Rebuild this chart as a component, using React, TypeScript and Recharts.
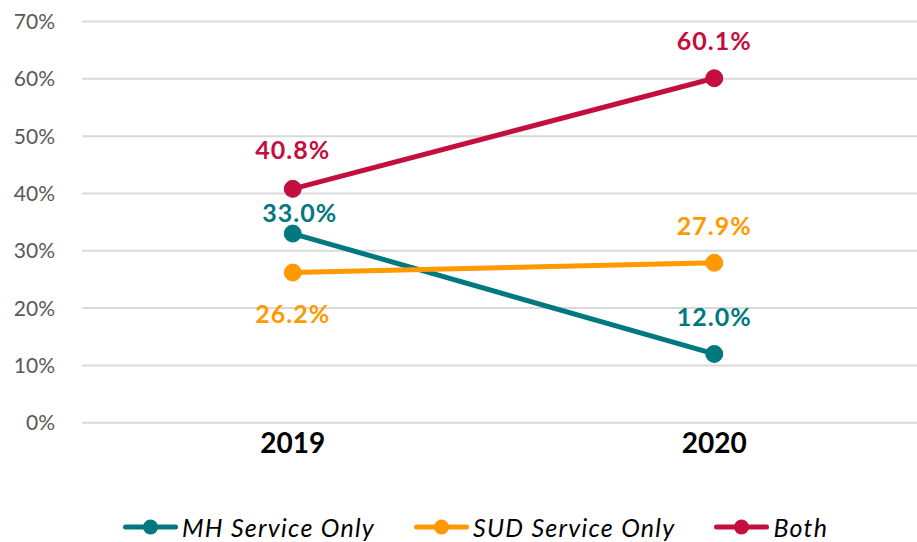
import React from 'react';
import { LineChart, Line, XAxis, YAxis, CartesianGrid, Legend, LabelList } from 'recharts';

const years = ['2019', '2020'];
const mhValues = [33.0, 12.0];
const sudValues = [26.2, 27.9];
const bothValues = [40.8, 60.1];
const yTicks = [0, 10, 20, 30, 40, 50, 60, 70];
const seriesNames = ['MH Service Only', 'SUD Service Only', 'Both'];

const TEAL = '#007880';
const ORANGE = '#FF9900';
const RED = '#C40E3E';

const data = years.map((year, i) => ({
  year,
  mh: mhValues[i],
  sud: sudValues[i],
  both: bothValues[i],
}));

const FONT = 'Lato, "Open Sans", sans-serif';

const makeLabel = (color: string, dys: number[], dxs: number[]) => (props: any) => {
  const { x, y, value, index } = props;
  return (
    <text
      x={Number(x) + dxs[index]}
      y={Number(y) + dys[index]}
      fill={color}
      textAnchor="middle"
      dominantBaseline="central"
      fontFamily={FONT}
      fontWeight={700}
      fontSize={25}
      letterSpacing={1}
    >
      {Number(value).toFixed(1)}%
    </text>
  );
};

const legendItems = [
  { name: seriesNames[0], color: TEAL },
  { name: seriesNames[1], color: ORANGE },
  { name: seriesNames[2], color: RED },
];

const renderLegend = () => (
  <div
    style={{
      display: 'flex',
      alignItems: 'center',
      height: 40,
      paddingLeft: 123,
      fontFamily: FONT,
      fontStyle: 'italic',
      fontSize: 25,
      letterSpacing: 1.25,
      color: '#000',
      boxSizing: 'border-box',
    }}
  >
    {legendItems.map((it) => (
      <div key={it.name} style={{ display: 'flex', alignItems: 'center', marginRight: 39 }}>
        <svg width={59} height={20} style={{ display: 'block' }}>
          <line x1={2.5} x2={52.5} y1={10} y2={10} stroke={it.color} strokeWidth={5} strokeLinecap="round" />
          <circle cx={27.5} cy={10} r={7.5} fill={it.color} />
        </svg>
        <span style={{ whiteSpace: 'nowrap' }}>{it.name}</span>
      </div>
    ))}
  </div>
);

export default function App() {
  return (
    <div
      style={{
        position: 'fixed',
        left: 0,
        top: 0,
        width: 917,
        height: 542,
        overflow: 'hidden',
        background: '#fff',
      }}
    >
      <LineChart
        width={926}
        height={542}
        data={data}
        margin={{ top: 21.5, right: 1, left: 0, bottom: 19.3 }}
      >
        <CartesianGrid vertical={false} stroke="#D9D9D9" strokeWidth={2} />
        <XAxis
          dataKey="year"
          axisLine={false}
          tickLine={false}
          tickSize={0}
          tickMargin={10}
          height={60}
          padding={{ left: 210.75, right: 210.75 }}
          tick={{ fill: '#000', fontSize: 28, fontWeight: 700, fontFamily: FONT }}
        />
        <YAxis
          domain={[0, 70]}
          ticks={yTicks}
          width={82}
          axisLine={false}
          tickLine={false}
          tickSize={0}
          tickMargin={27}
          tickFormatter={(v: number) => `${v}%`}
          tick={{ fill: '#595959', fontSize: 21, fontFamily: FONT }}
        />
        <Legend
          verticalAlign="bottom"
          content={renderLegend}
          wrapperStyle={{ top: 507, left: 0, width: 926, height: 40, bottom: 'auto' }}
        />
        <Line
          dataKey="mh"
          name={seriesNames[0]}
          stroke={TEAL}
          strokeWidth={5}
          dot={{ r: 8.5, fill: TEAL, stroke: TEAL, strokeWidth: 1 }}
          activeDot={false}
          isAnimationActive={false}
        >
          <LabelList dataKey="mh" content={makeLabel(TEAL, [-22, -38], [7, 0])} />
        </Line>
        <Line
          dataKey="sud"
          name={seriesNames[1]}
          stroke={ORANGE}
          strokeWidth={5}
          dot={{ r: 8.5, fill: ORANGE, stroke: ORANGE, strokeWidth: 1 }}
          activeDot={false}
          isAnimationActive={false}
        >
          <LabelList dataKey="sud" content={makeLabel(ORANGE, [40, -38], [0, 0])} />
        </Line>
        <Line
          dataKey="both"
          name={seriesNames[2]}
          stroke={RED}
          strokeWidth={5}
          dot={{ r: 8.5, fill: RED, stroke: RED, strokeWidth: 1 }}
          activeDot={false}
          isAnimationActive={false}
        >
          <LabelList dataKey="both" content={makeLabel(RED, [-40, -38], [0, 0])} />
        </Line>
      </LineChart>
    </div>
  );
}
